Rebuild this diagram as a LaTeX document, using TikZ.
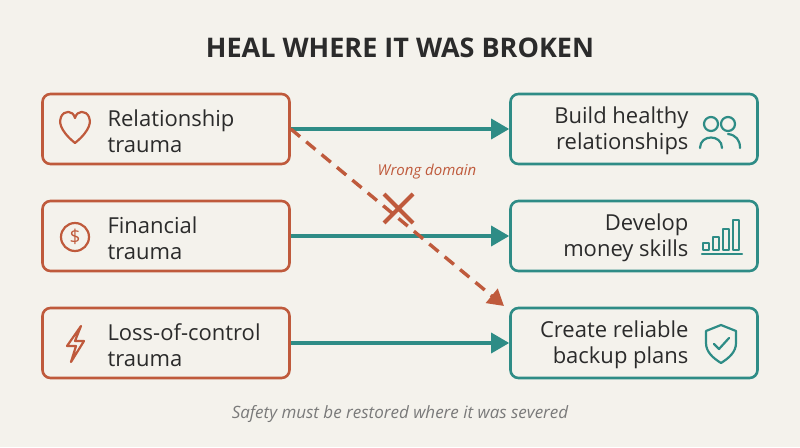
\documentclass[tikz,border=0pt]{standalone}
\usepackage{fontspec}
\setmainfont{Open Sans}
\usetikzlibrary{arrows.meta,positioning}
\definecolor{bgc}{HTML}{F4F2EC}
\definecolor{rust}{HTML}{BF5A3C}
\definecolor{teal}{HTML}{2E8C86}
\definecolor{ink}{HTML}{2B2B2B}
\definecolor{muted}{HTML}{7A7A7A}
\tikzset{
  src/.style={draw=rust, line width=2.6pt, rounded corners=8pt, fill=bgc, minimum width=247pt, minimum height=70pt},
  dst/.style={draw=teal, line width=2.6pt, rounded corners=8pt, fill=bgc, minimum width=247pt, minimum height=70pt},
  lbl/.style={font=\fontsize{22}{26}\selectfont, text=ink, align=left},
  flow/.style={teal, line width=3.4pt, -{Triangle[length=18pt,width=20pt]}},
  icon/.style={line width=2.2pt, line cap=round, line join=round},
}
\begin{document}
\begin{tikzpicture}[x=1pt,y=-1pt]
\fill[bgc] (0,0) rectangle (800,447);
\useasboundingbox (0,0) rectangle (800,447);
\node[font=\bfseries\fontsize{27}{32}\selectfont, text=ink] (title) at (400,48) {HEAL WHERE IT WAS BROKEN};

\node[src] (r1) at (166,129) {};
\node[src] (r2) at (166,236) {};
\node[src] (r3) at (166,343) {};
\node[dst] (g1) at (634,129) {};
\node[dst] (g2) at (634,236) {};
\node[dst] (g3) at (634,343) {};

\node[lbl, anchor=west] (t1) at (104,131) {Relationship\\trauma};
\node[lbl, anchor=west] (t2) at (104,238) {Financial\\trauma};
\node[lbl, anchor=west] (t3) at (104,345) {Loss-of-control\\trauma};
\node[lbl, align=right, anchor=east] (u1) at (692,131) {Build healthy\\relationships};
\node[lbl, align=right, anchor=east] (u2) at (692,238) {Develop\\money skills};
\node[lbl, align=right, anchor=east] (u3) at (692,345) {Create reliable\\backup plans};

% icons left
\draw[icon, rust] (75,143) .. controls (59,130) and (59,121) .. (61,117) .. controls (64,110) and (73,110) .. (75,118)
  .. controls (77,110) and (86,110) .. (89,117) .. controls (91,121) and (91,130) .. (75,143) -- cycle;
\draw[icon, rust] (75,237) circle (14);
\node[text=rust, font=\fontsize{19}{19}\selectfont] (dol) at (75,237) {\$};
\draw[icon, rust] (81,326) -- (67,346) -- (76,346) -- (71,362) -- (84,341) -- (75,341) -- cycle;

% icons right
\draw[icon, teal] (711,124) circle (7);
\draw[icon, teal] (700,148) .. controls (700,134) and (722,134) .. (722,148);
\draw[icon, teal] (728,124) circle (7);
\draw[icon, teal] (728,134) .. controls (736,135) and (740,140) .. (740,148);
\draw[icon, teal] (702,254) -- (742,254);
\foreach \xx/\hh in {706/7,716/13,726/21,736/30}
  \draw[icon, teal] (\xx-3,250) rectangle (\xx+3,250-\hh);
\draw[icon, teal] (721,325) -- (706,331) -- (706,343) .. controls (706,352) and (713,358) .. (721,363)
  .. controls (729,358) and (736,352) .. (736,343) -- (736,331) -- cycle;
\draw[icon, teal] (714,344) -- (719,349) -- (729,338);

% connectors
\draw[flow] (r1.east) -- (g1.west);
\draw[flow] (r2.east) -- (g2.west);
\draw[flow] (r3.east) -- (g3.west);
\coordinate (wrongend) at (504,306);
\draw[rust, line width=3.4pt, dash pattern=on 12pt off 8pt, -{Triangle[length=16pt,width=18pt]}] (r1.east) -- (wrongend);
\node[text=rust, font=\itshape\fontsize{15}{17}\selectfont] (wd) at (427,172) {Wrong domain};
\draw[rust, line width=4pt] (384,194) -- (413,223) (413,194) -- (384,223);

\node[text=muted, font=\itshape\fontsize{17}{20}\selectfont] (foot) at (400,414) {Safety must be restored where it was severed};
\end{tikzpicture}
\end{document}
